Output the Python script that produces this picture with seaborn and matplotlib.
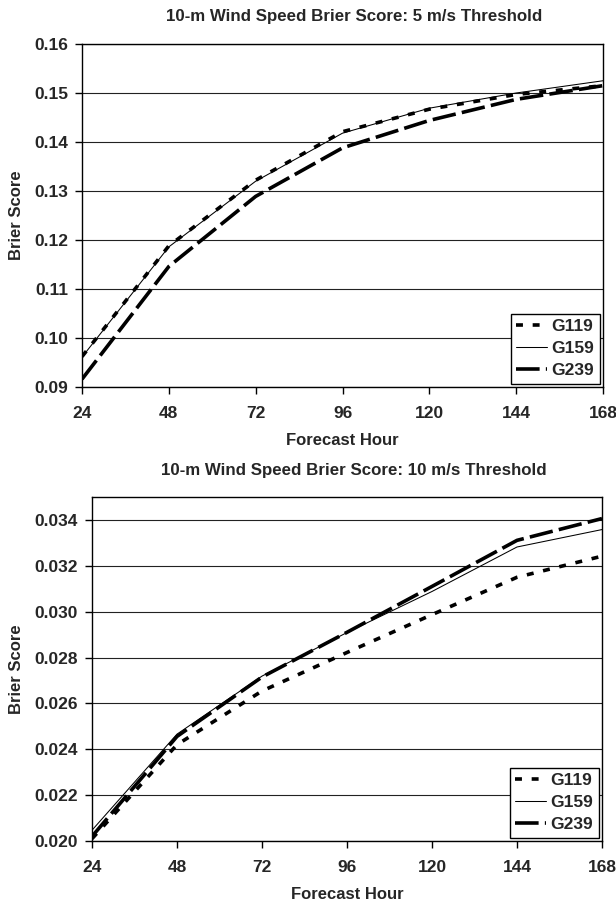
import matplotlib
matplotlib.use("Agg")
import matplotlib.pyplot as plt
import pandas as pd
import seaborn as sns

hours = [24, 48, 72, 96, 120, 144, 168]
models = ["G119", "G159", "G239"]

# 5 m/s threshold
bs5_g119 = [0.0962, 0.1188, 0.1322, 0.1421, 0.1467, 0.1497, 0.1515]
bs5_g159 = [0.0961, 0.1186, 0.1320, 0.1418, 0.1469, 0.1500, 0.1525]
bs5_g239 = [0.0916, 0.1146, 0.1289, 0.1388, 0.1444, 0.1487, 0.1515]

# 10 m/s threshold
bs10_g119 = [0.02010, 0.02420, 0.02654, 0.02822, 0.02987, 0.03150, 0.03242]
bs10_g159 = [0.02047, 0.02466, 0.02719, 0.02909, 0.03088, 0.03282, 0.03358]
bs10_g239 = [0.02020, 0.02456, 0.02715, 0.02910, 0.03110, 0.03311, 0.03406]

yticks5 = [0.09, 0.10, 0.11, 0.12, 0.13, 0.14, 0.15, 0.16]
yticks10 = [0.020, 0.022, 0.024, 0.026, 0.028, 0.030, 0.032, 0.034]

sns.set_style("ticks")
plt.rcParams["font.family"] = ["Liberation Sans", "DejaVu Sans"]
plt.rcParams["font.weight"] = "bold"
plt.rcParams["lines.scale_dashes"] = False

styles = {
    "G119": dict(lw=2.6, dashes=(5.0, 7.0)),
    "G159": dict(lw=0.75, dashes=None),
    "G239": dict(lw=2.6, dashes=(17, 4.5)),
}


def draw_panel(ax, series, yticks, ylim, fmt, ylab_x):
    df = pd.DataFrame({"hour": hours * 3,
                       "score": series[0] + series[1] + series[2],
                       "model": [m for m in models for _ in hours]})
    for m in models:
        sub = df[df["model"] == m]
        st = styles[m]
        sns.lineplot(data=sub, x="hour", y="score", ax=ax, color="black",
                     lw=st["lw"], label=m)
        line = ax.get_lines()[-1]
        if st["dashes"]:
            line.set_dashes(st["dashes"])
            line.set_dash_capstyle("butt")
    ax.set_xlim(24, 168)
    ax.set_ylim(*ylim)
    ax.set_xticks(hours)
    ax.set_yticks(yticks)
    ax.set_yticklabels([fmt.format(v) for v in yticks])
    for y in yticks:
        ax.axhline(y, color="#222222", lw=0.8, zorder=0)
    for s in ax.spines.values():
        s.set_visible(True)
        s.set_color("black")
        s.set_linewidth(1.0)
    ax.tick_params(axis="both", direction="out", length=5, width=1,
                   labelsize=12.5, color="black", pad=5)
    ax.tick_params(axis="x", pad=9)
    ax.set_xlabel("Forecast Hour", fontsize=12, fontweight="bold")
    ax.set_ylabel("Brier Score", fontsize=12, fontweight="bold")
    ax.yaxis.set_label_coords(ylab_x, 0.5)
    ax.xaxis.set_label_coords(0.5, -0.133)
    leg = ax.legend(loc="lower right", frameon=True, fancybox=False,
                    edgecolor="black", fontsize=12.5, handlelength=1.8,
                    borderaxespad=0.2, labelspacing=0.4, handletextpad=0.25,
                    borderpad=0.3)
    leg.get_frame().set_linewidth(1.0)
    leg.get_frame().set_alpha(1)
    return ax


fig = plt.figure(figsize=(6.16, 9.01), dpi=100)
ax1 = fig.add_axes([82 / 616, 514 / 901, 521 / 616, 343 / 901])
ax2 = fig.add_axes([92 / 616, 60 / 901, 510 / 616, 344 / 901])

draw_panel(ax1, [bs5_g119, bs5_g159, bs5_g239],
           yticks5, (0.09, 0.16), "{:.2f}", -0.111)
draw_panel(ax2, [bs10_g119, bs10_g159, bs10_g239],
           yticks10, (0.020, 0.035), "{:.3f}", -0.133)

fig.text(354 / 616, 1 - 17 / 901, "10-m Wind Speed Brier Score: 5 m/s Threshold",
         ha="center", va="center", fontsize=12.2, fontweight="bold")
fig.text(354 / 616, 1 - 470 / 901, "10-m Wind Speed Brier Score: 10 m/s Threshold",
         ha="center", va="center", fontsize=12.2, fontweight="bold")

fig.savefig("out.png", dpi=100)
plt.close(fig)
